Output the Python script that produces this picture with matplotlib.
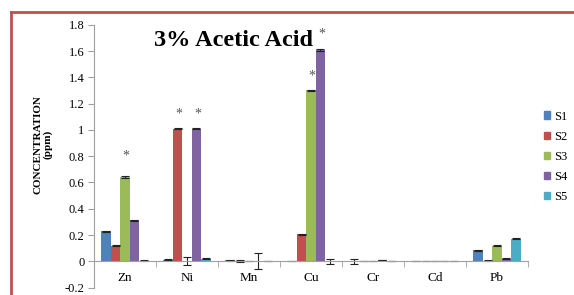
import numpy as np
import matplotlib
matplotlib.use("Agg")
import matplotlib.pyplot as plt
from matplotlib.lines import Line2D
from matplotlib.patches import Patch

plt.rcParams['font.family'] = ['Liberation Serif', 'DejaVu Serif']

metals = ["Zn", "Ni", "Mn", "Cu", "Cr", "Cd", "Pb"]
series = ["S1", "S2", "S3", "S4", "S5"]
colors = ["#4F81BD", "#C0504D", "#9BBB59", "#8064A2", "#4BACC6"]

# concentration (ppm) per series, one value per metal
s1 = [0.228, 0.012, 0.006, 0.004, 0.0, 0.003, 0.084]
s2 = [0.118, 1.008, 0.003, 0.207, 0.003, 0.0, 0.004]
s3 = [0.642, 0.0, 0.003, 1.302, 0.0, 0.003, 0.117]
s4 = [0.313, 1.008, 0.0, 1.610, 0.010, 0.003, 0.018]
s5 = [0.003, 0.020, 0.0, 0.0, 0.0, 0.003, 0.170]
values = [s1, s2, s3, s4, s5]

# standard error bars
e1 = [0.004, 0.003, 0.002, 0.0, 0.020, 0.0, 0.003]
e2 = [0.003, 0.004, 0.010, 0.004, 0.002, 0.0, 0.003]
e3 = [0.004, 0.030, 0.002, 0.004, 0.0, 0.0, 0.004]
e4 = [0.004, 0.004, 0.060, 0.005, 0.003, 0.0, 0.003]
e5 = [0.003, 0.003, 0.0, 0.020, 0.0, 0.0, 0.004]
errors = [e1, e2, e3, e4, e5]

# significance markers: (metal index, series index, y)
stars = [(0, 2, 0.80), (1, 1, 1.12), (1, 3, 1.12), (3, 2, 1.41), (3, 3, 1.73)]

fig = plt.figure(figsize=(5.74, 2.95), dpi=100)
ax = fig.add_axes([0.1638, 0.0254, 0.756, 0.8899])

x = np.arange(len(metals))
w = 0.152
for i in range(len(series)):
    ax.bar(x + (i - 2) * w, values[i], w, color=colors[i], label=series[i],
           yerr=errors[i], error_kw=dict(ecolor="#222222", elinewidth=0.8,
                                         capsize=3, capthick=0.8))

for m, s, y in stars:
    ax.text(m + (s - 2) * w + 0.02, y, "*", ha="center", va="center",
            fontsize=10, color="#555555")

ax.set_xlim(-0.5, len(metals) - 0.5)
ax.set_ylim(-0.2, 1.8)
ax.set_yticks(np.arange(-0.2, 1.81, 0.2))
ax.set_yticklabels(["-0.2", "0", "0.2", "0.4", "0.6", "0.8", "1", "1.2",
                    "1.4", "1.6", "1.8"])
ax.set_xticks(x)
ax.set_xticklabels(metals)
ax.set_xticks(np.arange(-0.5, len(metals), 1.0), minor=True)
ax.tick_params(axis="x", which="major", length=0, pad=8, labelsize=9.5)
ax.tick_params(axis="x", which="minor", length=4, color="#A0A0A0")
ax.tick_params(axis="y", length=4, color="#A0A0A0", labelsize=9, pad=3)

ax.spines["top"].set_visible(False)
ax.spines["right"].set_visible(False)
ax.spines["bottom"].set_position(("data", 0))
for sp in ["left", "bottom"]:
    ax.spines[sp].set_color("#A0A0A0")
    ax.spines[sp].set_linewidth(0.8)

fig.text(0.406, 0.862, "3% Acetic Acid", ha="center", va="center",
         fontsize=17.5, fontweight="bold")
fig.text(0.075, 0.51, "CONCENTRATION\n(ppm)", ha="center", va="center",
         rotation=90, fontsize=8, fontweight="bold", linespacing=1.1)

handles = [Patch(color=c) for c in colors]
fig.legend(handles, series, loc="upper left", bbox_to_anchor=(0.947, 0.625),
           frameon=False, fontsize=9, handlelength=0.55, handleheight=0.55,
           handletextpad=0.3, labelspacing=0.65, borderpad=0, borderaxespad=0)

# red frame (left and top edges visible)
fig.add_artist(Line2D([0.0183, 0.0183], [0.0, 0.9593], transform=fig.transFigure,
                      color="#C0504D", linewidth=2))
fig.add_artist(Line2D([0.0183, 0.998], [0.9593, 0.9593], transform=fig.transFigure,
                      color="#C0504D", linewidth=2))

fig.savefig("out.png", dpi=100)
